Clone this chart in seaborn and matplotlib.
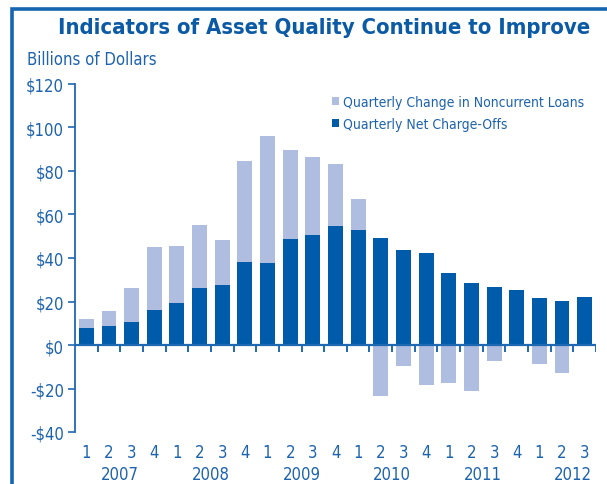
import pandas as pd
import matplotlib
matplotlib.use("Agg")
import matplotlib.pyplot as plt
import matplotlib.patches as mpatches
import seaborn as sns

# Quarterly data, 2007 Q1 - 2012 Q3 (billions of dollars)
years = ["2007", "2008", "2009", "2010", "2011", "2012"]
quarters = ["1", "2", "3", "4"] * 5 + ["1", "2", "3"]
net_charge_offs = [8.0, 8.9, 10.7, 16.2, 19.5, 26.4, 27.7, 38.3,
                   37.9, 48.9, 50.7, 54.8, 53.0, 49.2, 43.7, 42.3,
                   33.1, 28.5, 26.7, 25.3, 21.6, 20.2, 22.1]
noncurrent_change = [4.1, 6.9, 15.5, 29.0, 26.2, 28.9, 20.6, 46.5,
                     58.2, 40.6, 35.9, 28.5, 14.3, -23.4, -9.6, -18.4,
                     -17.5, -21.1, -7.4, -0.5, -8.7, -12.9, 0.0]

DARK = "#005caa"
LIGHT = "#afbde0"
TEXT = "#1d63ad"
AXIS = "#1f68b2"

periods = [f"{years[i // 4]} Q{q}" for i, q in enumerate(quarters)]
df = pd.DataFrame({
    "period": periods,
    "nco": net_charge_offs,
    "change": noncurrent_change,
})
# light bars sit on top of the dark ones when positive, below zero when negative
df["stack_top"] = df["nco"] + df["change"].clip(lower=0)
df["below"] = df["change"].clip(upper=0)

sns.set_style("white")
plt.rcParams["font.family"] = ["DejaVu Sans"]
plt.rcParams["font.stretch"] = "condensed"

fig = plt.figure(figsize=(6.07, 4.85), dpi=100)
ax = fig.add_axes([75 / 607, 1 - 433 / 485, 521 / 607, 348 / 485])

bar_kw = dict(width=0.66, saturation=1, linewidth=0, ax=ax)
sns.barplot(data=df, x="period", y="stack_top", color=LIGHT,
            label="Quarterly Change in Noncurrent Loans", **bar_kw)
sns.barplot(data=df, x="period", y="below", color=LIGHT, **bar_kw)
sns.barplot(data=df, x="period", y="nco", color=DARK,
            label="Quarterly Net Charge-Offs", **bar_kw)

n = len(df)
ax.set_xlim(-0.5, n - 0.5)
ax.set_ylim(-40, 120)
ax.set_xlabel("")
ax.set_ylabel("")

# y axis
yt = list(range(-40, 121, 20))
ax.set_yticks(yt)
ax.set_yticklabels([("-$%d" % -v) if v < 0 else "$%d" % v for v in yt])
ax.tick_params(axis="y", direction="out", length=5, width=1.2, color=AXIS,
               labelsize=12, labelcolor=TEXT, pad=3, left=True)

# x axis: quarter numbers, years as minor labels
ax.set_xticks(range(n))
ax.set_xticklabels(quarters)
ax.set_xticks([1.5 + 4 * i for i in range(len(years) - 1)] + [21.5], minor=True)
ax.set_xticklabels(years, minor=True)
ax.tick_params(axis="x", which="major", length=0, labelsize=12,
               labelcolor=TEXT, pad=8)
ax.tick_params(axis="x", which="minor", length=0, labelsize=12,
               labelcolor=TEXT, pad=24)

for side in ["top", "right", "bottom"]:
    ax.spines[side].set_visible(False)
ax.spines["left"].set_color(AXIS)
ax.spines["left"].set_linewidth(1.3)

# zero line with boundary ticks
ax.axhline(0, color=AXIS, lw=1.6, zorder=5)
bounds = [i + 0.5 for i in range(n)]
ax.vlines(bounds, -3.2, 0, color=AXIS, lw=1.4, zorder=5)

leg = ax.legend(loc="upper left", bbox_to_anchor=(0.482, 0.985), frameon=False,
                fontsize=10, handlelength=0.55, handleheight=0.55,
                handletextpad=0.3, labelspacing=0.6, borderaxespad=0)
for t in leg.get_texts():
    t.set_color(TEXT)

fig.text(324 / 607, 1 - 28 / 485, "Indicators of Asset Quality Continue to Improve",
         ha="center", va="center", fontsize=15.8, fontweight="bold", color="#0b5aa6")
fig.text(27 / 607, 1 - 60 / 485, "Billions of Dollars", ha="left", va="center",
         fontsize=12, color=TEXT)

# page frame
frame = mpatches.Rectangle((12 / 607, -0.05), 1.0, 1.05 - 10 / 485,
                           transform=fig.transFigure, fill=False,
                           edgecolor="#1565b0", lw=2.6, clip_on=False)
fig.add_artist(frame)

fig.savefig("out.png", dpi=100)
